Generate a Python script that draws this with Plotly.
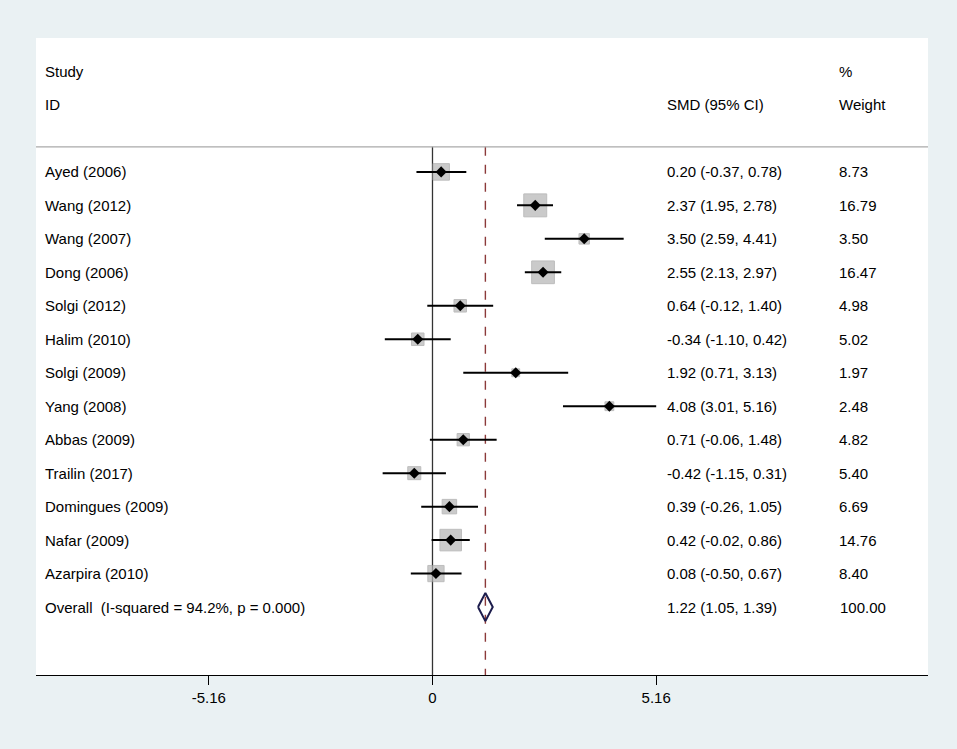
import numpy as np
import plotly.graph_objects as go

# ------- Forest plot data ------- #
studies = ["Ayed (2006)", "Wang (2012)", "Wang (2007)", "Dong (2006)", "Solgi (2012)",
           "Halim (2010)", "Solgi (2009)", "Yang (2008)", "Abbas (2009)", "Trailin (2017)",
           "Domingues (2009)", "Nafar (2009)", "Azarpira (2010)"]
smd = [0.20, 2.37, 3.50, 2.55, 0.64, -0.34, 1.92, 4.08, 0.71, -0.42, 0.39, 0.42, 0.08]
ci_lo = [-0.37, 1.95, 2.59, 2.13, -0.12, -1.10, 0.71, 3.01, -0.06, -1.15, -0.26, -0.02, -0.50]
ci_hi = [0.78, 2.78, 4.41, 2.97, 1.40, 0.42, 3.13, 5.16, 1.48, 0.31, 1.05, 0.86, 0.67]
weight = [8.73, 16.79, 3.50, 16.47, 4.98, 5.02, 1.97, 2.48, 4.82, 5.40, 6.69, 14.76, 8.40]

overall_label = "Overall\u00a0\u00a0(I-squared = 94.2%, p = 0.000)"
overall_smd, overall_lo, overall_hi, overall_w = 1.22, 1.05, 1.39, 100.00

tick_vals = [-5.16, 0, 5.16]
tick_text = ["-5.16", "0", "5.16"]

FONT = "Liberation Sans, Arial, sans-serif"
FS = 15

smd = np.array(smd); ci_lo = np.array(ci_lo); ci_hi = np.array(ci_hi); weight = np.array(weight)
rows = np.arange(1, len(studies) + 1)
row_overall = len(studies) + 1

fig = go.Figure()

# weight boxes
fig.add_trace(go.Scatter(
    x=smd, y=rows, mode="markers",
    marker=dict(symbol="square", size=5.6 * np.sqrt(weight), color="#b4b4b4",
                line=dict(color="#a2a2a2", width=1)),
    hoverinfo="skip", showlegend=False))

# confidence intervals + point estimates
fig.add_trace(go.Scatter(
    x=smd, y=rows, mode="markers",
    marker=dict(symbol="diamond", size=8.5, color="black"),
    error_x=dict(type="data", symmetric=False, array=ci_hi - smd, arrayminus=smd - ci_lo,
                 width=0, thickness=2, color="black"),
    showlegend=False))

# overall diamond
h = 0.42
fig.add_trace(go.Scatter(
    x=[overall_lo, overall_smd, overall_hi, overall_smd, overall_lo],
    y=[row_overall, row_overall - h, row_overall, row_overall + h, row_overall],
    mode="lines", line=dict(color="#1c1c4c", width=2), showlegend=False))

y_top_line = 0.25
y_bottom = 16.03

# no-effect line and overall effect line
fig.add_shape(type="line", x0=0, x1=0, y0=y_top_line, y1=y_bottom,
              line=dict(color="#333333", width=1.3), layer="below")
fig.add_shape(type="line", x0=overall_smd, x1=overall_smd, y0=y_top_line, y1=y_bottom,
              line=dict(color="#8b3a3a", width=1.4, dash="dash"), layer="below")
# header separator
fig.add_shape(type="line", xref="paper", x0=0, x1=1, y0=y_top_line, y1=y_top_line,
              line=dict(color="#aaaaaa", width=1.2))

ann = []
def txt(x, y, s):
    ann.append(dict(x=x, y=y, xref="paper", yref="y", text=s, showarrow=False,
                    xanchor="left", yanchor="middle", font=dict(size=FS, color="black", family=FONT)))

txt(0.008, -2, "Study")
txt(0.008, -1, "ID")
txt(0.705, -1, "SMD (95% CI)")
txt(0.898, -2, "%")
txt(0.898, -1, "Weight")
for i, s in enumerate(studies):
    txt(0.008, rows[i], s)
    txt(0.705, rows[i], f"{smd[i]:.2f} ({ci_lo[i]:.2f}, {ci_hi[i]:.2f})")
    txt(0.898, rows[i], f"{weight[i]:.2f}")
txt(0.008, row_overall, overall_label)
txt(0.705, row_overall, f"{overall_smd:.2f} ({overall_lo:.2f}, {overall_hi:.2f})")
txt(0.899, row_overall, f"{overall_w:.2f}")

fig.update_layout(
    width=957, height=749,
    margin=dict(l=36, r=29, t=38, b=74),
    paper_bgcolor="#eaf1f3", plot_bgcolor="white",
    annotations=ann,
    font=dict(family=FONT, size=FS, color="black"),
    xaxis=dict(range=[-9.146, 11.43], tickvals=tick_vals, ticktext=tick_text,
               showgrid=False, zeroline=False, showline=True, linecolor="black", linewidth=1.2,
               ticks="outside", ticklen=9, tickcolor="black", tickwidth=1.2,
               tickfont=dict(size=FS, family=FONT)),
    yaxis=dict(range=[y_bottom, -3.0], showgrid=False, zeroline=False,
               showticklabels=False, showline=False),
)

fig.write_html("out.html", config={"displayModeBar": False},
               post_script="document.body.style.margin='0px';")
